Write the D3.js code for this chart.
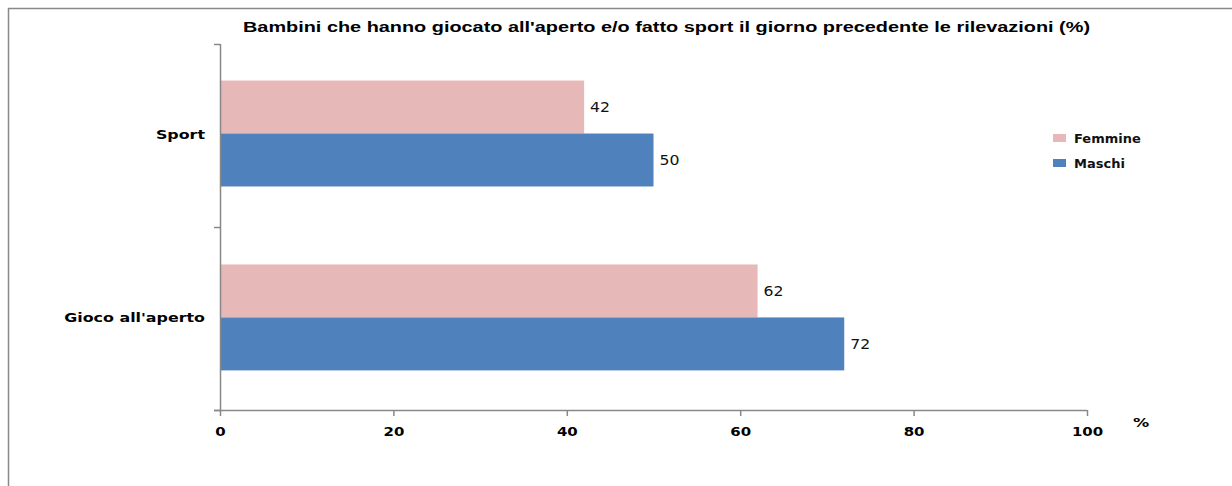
<!DOCTYPE html>
<html>
<head>
<meta charset="utf-8">
<script src="https://cdn.jsdelivr.net/npm/d3@7"></script>
<style>
  body { margin: 0; background: #fff; }
  svg { display: block; }
</style>
</head>
<body>
<div id="chart"></div>
<script>
// categories top to bottom, series in drawing order
var categories = ["Sport", "Gioco all'aperto"];
var seriesNames = ["Femmine", "Maschi"];
var femmine = [42, 62];
var maschi = [50, 72];
var xTicks = [0, 20, 40, 60, 80, 100];
var colors = ["#e6b8b7", "#4f81bd"];

var width = 1232, height = 486;
var svg = d3.select("#chart").append("svg")
    .attr("width", width)
    .attr("height", height);

// the original picture is stretched sideways, so widen text to match
var stretch = function(sel, k) {
  sel.each(function() {
    var w = this.getComputedTextLength();
    d3.select(this).attr("textLength", w * k).attr("lengthAdjust", "spacingAndGlyphs");
  });
};

// outer frame (left + top only visible)
svg.append("path")
    .attr("d", "M8.5,486 V8.5 H1232")
    .attr("fill", "none")
    .attr("stroke", "#888")
    .attr("stroke-width", 1.5);

var x = d3.scaleLinear().domain([0, 100]).range([220, 1087]);
var y = d3.scaleBand().domain(categories).range([44, 410])
    .paddingInner(0.424).paddingOuter(0.207).align(0.48);
var ySub = d3.scaleBand().domain(seriesNames).range([0, y.bandwidth()]);

var values = [femmine, maschi];

var g = svg.append("g");
seriesNames.forEach(function(s, si) {
  g.selectAll(".bar" + si)
    .data(categories)
    .enter().append("rect")
    .attr("x", x(0))
    .attr("y", function(d) { return y(d) + ySub(s); })
    .attr("width", function(d, i) { return x(values[si][i]) - x(0); })
    .attr("height", ySub.bandwidth())
    .attr("fill", colors[si]);

  g.selectAll(".lbl" + si)
    .data(categories)
    .enter().append("text")
    .attr("x", function(d, i) { return x(values[si][i]) + 6; })
    .attr("y", function(d) { return y(d) + ySub(s) + ySub.bandwidth() / 2 + 5; })
    .attr("font-family", "DejaVu Sans")
    .attr("font-size", 14)
    .attr("fill", "#111")
    .text(function(d, i) { return values[si][i]; })
    .call(stretch, 1.12);
});

// x axis
var xAxis = d3.axisBottom(x).tickValues(xTicks).tickSize(6).tickSizeOuter(0);
var gx = svg.append("g").attr("transform", "translate(0,410)").call(xAxis);
gx.select(".domain").attr("stroke", "#888").attr("stroke-width", 1.5).attr("d", "M214,0.5H1087");
gx.selectAll(".tick line").attr("stroke", "#888").attr("stroke-width", 1.5);
gx.selectAll(".tick text")
    .attr("dy", 0).attr("y", 26)
    .attr("font-family", "DejaVu Sans")
    .attr("font-weight", "bold")
    .attr("font-size", 11.5)
    .attr("fill", "#000")
    .call(stretch, 1.3);

// y axis line with boundary ticks
var yEdges = [44, (44 + 410) / 2, 410];
svg.append("line")
    .attr("x1", 220.5).attr("x2", 220.5).attr("y1", 44).attr("y2", 410)
    .attr("stroke", "#888").attr("stroke-width", 1.5);
svg.selectAll(".ytick").data(yEdges).enter().append("line")
    .attr("x1", 214).attr("x2", 220)
    .attr("y1", function(d) { return Math.round(d) + 0.5; })
    .attr("y2", function(d) { return Math.round(d) + 0.5; })
    .attr("stroke", "#888").attr("stroke-width", 1.5);

svg.selectAll(".ylab").data(categories).enter().append("text")
    .attr("x", 205)
    .attr("y", function(d) { return y(d) + y.bandwidth() / 2 + 5; })
    .attr("text-anchor", "end")
    .attr("font-family", "DejaVu Sans")
    .attr("font-weight", "bold")
    .attr("font-size", 13)
    .attr("fill", "#000")
    .text(function(d) { return d; })
    .call(stretch, 1.22);

// title
svg.append("text")
    .attr("x", 243).attr("y", 32)
    .attr("font-family", "Liberation Sans")
    .attr("font-weight", "bold")
    .attr("font-size", 14)
    .attr("textLength", 847)
    .attr("lengthAdjust", "spacingAndGlyphs")
    .attr("fill", "#000")
    .text("Bambini  che hanno giocato all'aperto e/o fatto sport il giorno precedente le rilevazioni (%)");

// % unit label
svg.append("text")
    .attr("x", 1133).attr("y", 427)
    .attr("font-family", "DejaVu Sans")
    .attr("font-weight", "bold")
    .attr("font-size", 12)
    .attr("fill", "#000")
    .text("%")
    .call(stretch, 1.35);

// legend
var legend = svg.selectAll(".leg").data(seriesNames).enter().append("g")
    .attr("transform", function(d, i) { return "translate(1053," + (134 + i * 25) + ")"; });
legend.append("rect").attr("width", 13).attr("height", 8)
    .attr("fill", function(d, i) { return colors[i]; });
legend.append("text")
    .attr("x", 21).attr("y", 9)
    .attr("font-family", "DejaVu Sans")
    .attr("font-weight", "bold")
    .attr("font-size", 13)
    .attr("fill", "#111")
    .text(function(d) { return d; });
</script>
</body>
</html>
